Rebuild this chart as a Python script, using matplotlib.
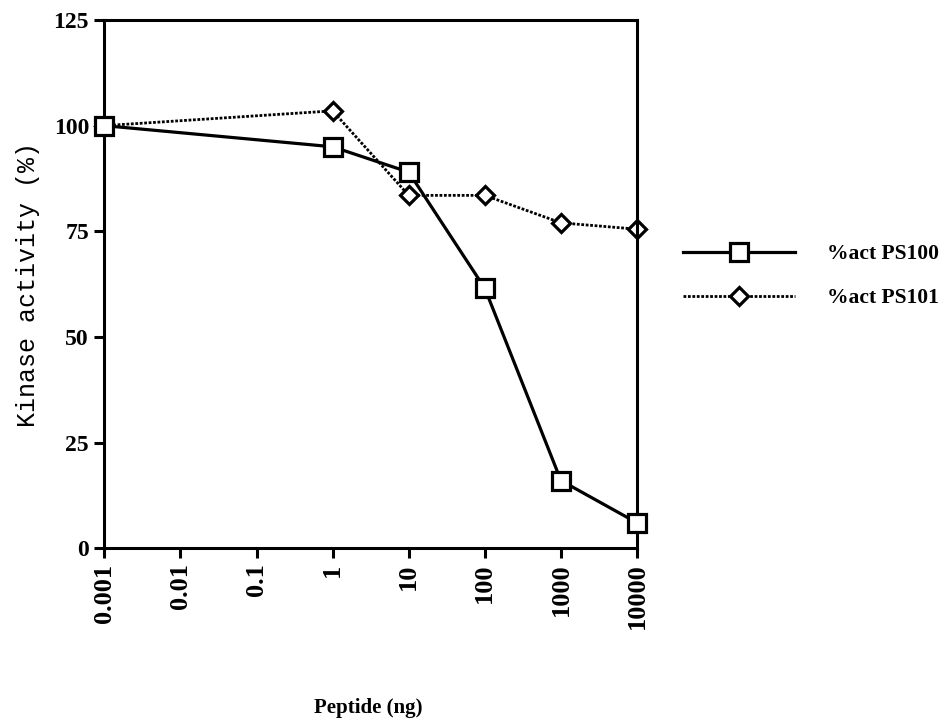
import numpy as np
import matplotlib
matplotlib.use('Agg')
import matplotlib.pyplot as plt

# peptide amount (ng) and kinase activity (%)
peptide = [0.001, 1, 10, 100, 1000, 10000]
act_ps100 = [100, 95, 89, 61.5, 16, 6]
act_ps101 = [100, 103.5, 83.5, 83.5, 77, 75.5]

xticks = [0.001, 0.01, 0.1, 1, 10, 100, 1000, 10000]
xtick_labels = ['0.001', '0.01', '0.1', '1', '10', '100', '1000', '10000']
yticks = [0, 25, 50, 75, 100, 125]

serif = 'Liberation Serif'

fig = plt.figure(figsize=(9.48, 7.28), dpi=100)
ax = fig.add_axes([0.110, 0.247, 0.562, 0.7255])

ax.plot(peptide, act_ps100, color='black', lw=2.3, marker='s', ms=13.5,
        mfc='white', mec='black', mew=2.3, label='%act PS100', zorder=3,
        clip_on=False)
ax.plot(peptide, act_ps101, color='black', lw=2.0, ls=(0, (1, 0.6)),
        marker='D', ms=9.5, mfc='white', mec='black', mew=2.3,
        label='%act PS101', zorder=2, clip_on=False)

ax.set_xscale('log')
ax.set_xlim(0.001, 10000)
ax.set_ylim(0, 125)
ax.set_xticks(xticks)
ax.set_xticklabels(xtick_labels, rotation=90, fontfamily=serif,
                   fontweight='bold', fontsize=19)
ax.xaxis.set_minor_locator(matplotlib.ticker.NullLocator())
ax.set_yticks(yticks)
ax.set_yticklabels([str(v) for v in yticks], fontfamily=serif,
                   fontweight='bold', fontsize=17)
ax.tick_params(direction='out', length=7, width=2.2, pad=4)

for sp in ax.spines.values():
    sp.set_linewidth(2.2)

ax.set_ylabel('Kinase activity (%)', fontfamily='Liberation Mono',
              fontsize=18, labelpad=10)
fig.text(0.388, 0.028, 'Peptide (ng)', ha='center', va='center',
         fontfamily=serif, fontweight='bold', fontsize=15)

leg = ax.legend(loc='center left', bbox_to_anchor=(1.05, 0.515),
                frameon=False, handlelength=5.2, handletextpad=1.5,
                labelspacing=1.1, prop={'family': serif, 'weight': 'bold',
                                        'size': 15.5})

fig.savefig('out.png', dpi=100)
